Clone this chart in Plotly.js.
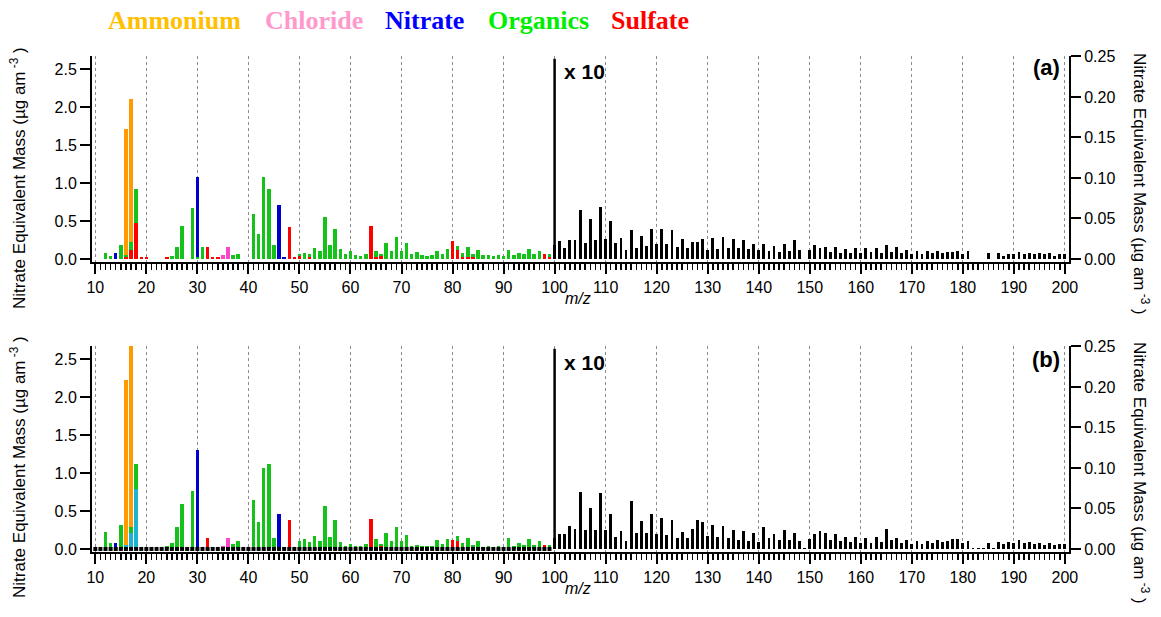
<!DOCTYPE html>
<html><head><meta charset="utf-8">
<script src="https://cdn.plot.ly/plotly-3.0.1.min.js"></script>
<style>html,body{margin:0;padding:0;background:#fff}#chart{width:1161px;height:617px}</style>
</head><body><div id="chart"></div>
<script>
// ---------------- Panel (a) : species stick spectra (segment heights, µg/m3) ----------------
const sulfA_mz = [16,17,18,19,20,24,32,33,34,48,49,50,52,64,65,66,80,81,82,83,84,98,99];
const sulfA    = [0.03,0.12,0.47,0.02,0.02,0.03,0.16,0.02,0.03,0.42,0.03,0.04,0.02,0.43,0.03,0.04,0.24,0.12,0.03,0.02,0.02,0.07,0.03];
const orgA_mz  = [12,13,15,16,17,18,25,26,27,29,30,31,37,38,41,42,43,44,45,50,51,52,53,54,55,56,57,58,59,60,61,62,63,65,66,67,68,69,70,71,72,73,74,75,76,77,78,79,81,82,83,84,85,86,87,88,89,90,91,92,93,94,95,96,97,99];
const orgA     = [0.075,0.04,0.19,0.02,0.10,0.455,0.04,0.16,0.43,0.67,0.03,0.16,0.05,0.07,0.59,0.33,1.075,0.925,0.18,0.02,0.08,0.05,0.14,0.11,0.55,0.18,0.39,0.13,0.06,0.10,0.05,0.04,0.06,0.07,0.02,0.21,0.10,0.285,0.11,0.21,0.06,0.09,0.05,0.04,0.05,0.10,0.06,0.13,0.05,0.05,0.135,0.05,0.12,0.05,0.05,0.04,0.05,0.04,0.12,0.05,0.08,0.06,0.13,0.06,0.11,0.04];
const nitA_mz  = [14,30,46,47];
const nitA     = [0.08,1.05,0.71,0.02];
const chlA_mz  = [35,36];
const chlA     = [0.05,0.16];
const ammA_mz  = [16,17];
const ammA     = [1.66,1.89];
// high-m/z total (right axis, true scale; drawn x10 relative to left)
const hiA_mz = [100,101,102,103,104,105,106,107,108,109,110,111,112,113,114,115,116,117,118,119,120,121,122,123,124,125,126,127,128,129,130,131,132,133,134,135,136,137,138,139,140,141,142,143,144,145,146,147,148,150,151,152,153,154,155,156,157,158,159,160,161,162,163,164,165,166,167,168,169,170,171,172,173,174,175,176,177,178,179,180,181,185,187,188,189,190,191,192,193,194,195,196,197,198,199,200];
const hiA    = [0.017,0.022,0.013,0.024,0.024,0.061,0.020,0.049,0.023,0.064,0.025,0.047,0.020,0.026,0.011,0.036,0.014,0.029,0.016,0.037,0.018,0.037,0.018,0.036,0.015,0.025,0.013,0.021,0.021,0.025,0.011,0.026,0.012,0.027,0.014,0.025,0.014,0.023,0.012,0.019,0.011,0.019,0.010,0.016,0.009,0.019,0.010,0.024,0.011,0.011,0.017,0.014,0.015,0.009,0.015,0.007,0.012,0.007,0.014,0.007,0.014,0.009,0.014,0.007,0.017,0.009,0.015,0.007,0.011,0.006,0.010,0.006,0.010,0.007,0.010,0.007,0.009,0.009,0.010,0.006,0.010,0.007,0.007,0.004,0.006,0.006,0.009,0.006,0.008,0.006,0.007,0.006,0.007,0.004,0.006,0.006];

// ---------------- Panel (b) ----------------
const watB_mz  = [16,17,18];
const watB     = [0.05,0.21,0.79];
const sulfB_mz = [32,48,50,64,66,80,81,98];
const sulfB    = [0.15,0.38,0.03,0.395,0.035,0.12,0.10,0.057];
const orgB_mz  = [12,13,15,17,18,24,25,26,27,29,37,38,41,42,43,44,45,49,50,51,52,53,54,55,56,57,58,59,60,61,62,63,65,66,67,68,69,70,71,72,73,74,75,76,77,78,79,81,82,83,84,85,86,87,88,89,90,91,92,93,94,95,96,97,99];
const orgB     = [0.22,0.083,0.32,0.08,0.33,0.035,0.08,0.29,0.59,0.76,0.07,0.11,0.645,0.355,1.06,1.12,0.15,0.03,0.075,0.13,0.09,0.175,0.11,0.57,0.16,0.38,0.09,0.04,0.06,0.035,0.035,0.06,0.135,0.025,0.21,0.10,0.29,0.10,0.19,0.035,0.057,0.044,0.035,0.04,0.12,0.07,0.135,0.07,0.08,0.15,0.057,0.11,0.03,0.04,0.026,0.04,0.026,0.145,0.044,0.083,0.048,0.135,0.053,0.105,0.048];
const nitB_mz  = [14,30,46];
const nitB     = [0.083,1.30,0.46];
const chlB_mz  = [35,36];
const chlB     = [0.04,0.145];
const ammB_mz  = [16,17];
const ammB     = [2.17,2.40];
const hiB_mz = [100,101,102,103,104,105,106,107,108,109,110,111,112,113,114,115,116,117,118,119,120,121,122,123,124,125,126,127,128,129,130,131,132,133,134,135,136,137,138,139,140,141,142,143,144,145,146,147,148,149,150,151,152,153,154,155,156,157,158,159,160,161,162,163,164,165,166,167,168,169,170,171,172,173,174,175,176,177,178,179,180,181,182,183,184,185,186,187,188,189,190,191,192,193,194,195,196,197,198,199,200];
const hiB    = [0.0135,0.019,0.019,0.029,0.025,0.0705,0.023,0.050,0.023,0.069,0.023,0.043,0.015,0.0225,0.010,0.059,0.020,0.035,0.020,0.043,0.019,0.038,0.017,0.036,0.0135,0.021,0.014,0.025,0.036,0.033,0.0155,0.030,0.015,0.029,0.014,0.024,0.0115,0.022,0.010,0.020,0.0086,0.027,0.014,0.019,0.0115,0.023,0.011,0.020,0.010,0.0016,0.012,0.018,0.022,0.020,0.011,0.018,0.010,0.015,0.009,0.015,0.008,0.014,0.008,0.015,0.0086,0.025,0.011,0.014,0.008,0.011,0.0066,0.010,0.0057,0.010,0.007,0.011,0.009,0.010,0.0127,0.0127,0.008,0.010,0.0012,0.0012,0.0012,0.008,0.0012,0.0086,0.0057,0.0086,0.0074,0.011,0.0074,0.0086,0.0057,0.0074,0.0053,0.0074,0.0053,0.006,0.006];
// baseline markers in (b)
const baseB_mz = [10,11,12,13,14,15,16,17,18,19,20,21,22,23,24,25,26,27,28,29,30,31,32,33,34,35,36,37,38,39,40,41,42,43,44,45,46,47,48,49,50,51,52,53,54,55,56,57,58,59,60,61,62,63,64,65,66,67,68,69,70,71,72,73,74,75,76,77,78,79,80,81,82,83,84,85,86,87,88,89,90,91,92,93,94,95,96,97,98,99];
const baseB    = baseB_mz.map(() => 0);

const legendNames  = ['Ammonium','Chloride','Nitrate','Organics','Sulfate'];
const legendColors = ['#FFC000','#FF99CC','#0000FF','#00EE00','#FF0000'];
const scaleBreak = 100;
const scaleLabel = 'x 10';
const yTitle = 'Nitrate Equivalent Mass (µg am<sup> -3</sup> )';

// ---------------- styling ----------------
const C = {amm:'#FF9A00', chl:'#FF44CC', nit:'#0000CC', org:'#14C21A', sulf:'#FF0000', wat:'#1CB3D0', blk:'#000000'};
const BW = 0.68;
const FONT = 'Liberation Sans, Arial, sans-serif';

function bar(x, y, color, xa, ya, w) {
  return {type:'bar', x:x, y:y, xaxis:xa, yaxis:ya, width:w||BW,
          marker:{color:color, line:{width:0}}, showlegend:false, hoverinfo:'x+y'};
}
const traces = [
  bar(sulfA_mz, sulfA, C.sulf, 'x', 'y'),
  bar(orgA_mz, orgA, C.org, 'x', 'y'),
  bar(nitA_mz, nitA, C.nit, 'x', 'y'),
  bar(chlA_mz, chlA, C.chl, 'x', 'y'),
  bar(ammA_mz, ammA, C.amm, 'x', 'y'),
  bar(hiA_mz, hiA, C.blk, 'x', 'y2', 0.56),
  bar(watB_mz, watB, C.wat, 'x2', 'y3'),
  bar(sulfB_mz, sulfB, C.sulf, 'x2', 'y3'),
  bar(orgB_mz, orgB, C.org, 'x2', 'y3'),
  bar(nitB_mz, nitB, C.nit, 'x2', 'y3'),
  bar(chlB_mz, chlB, C.chl, 'x2', 'y3'),
  bar(ammB_mz, ammB, C.amm, 'x2', 'y3'),
  bar(hiB_mz, hiB, C.blk, 'x2', 'y4', 0.56),
  {type:'scatter', mode:'markers', x:baseB_mz, y:baseB, xaxis:'x2', yaxis:'y3',
   marker:{symbol:'square', size:4, color:'#000', line:{width:0}}, showlegend:false, hoverinfo:'skip', cliponaxis:false}
];

// pixel frame
const W = 1161, H = 617, L = 92, R = 1069, T = 56, B = 552;
const px = x => (x - L) / (R - L);
const py = y => (B - y) / (B - T);
const panelH = 206;
const domA = [1 - panelH/(B-T), 1];
const domB = [0, panelH/(B-T)];

const xax = (anchor) => ({
  anchor: anchor, domain:[0,1], range:[9.35, 200.8], dtick:10, tick0:0,
  ticks:'outside', ticklen:10, tickwidth:2, tickcolor:'#000',
  showline:true, linewidth:2, linecolor:'#000', zeroline:false,
  showgrid:true, gridcolor:'#8c8c8c', griddash:'dot', gridwidth:1,
  tickfont:{size:16, color:'#000'},
  minor:{dtick:1, ticks:'outside', ticklen:6, tickwidth:1.5, tickcolor:'#000', showgrid:false}
});
const yl = (anchor, dom) => ({
  anchor: anchor, domain: dom, range:[-0.04, 2.671], dtick:0.5, tickformat:'.1f',
  ticks:'outside', ticklen:10, tickwidth:2, tickcolor:'#000',
  showline:true, linewidth:2, linecolor:'#000', zeroline:false, showgrid:false,
  tickfont:{size:16, color:'#000'}
});
const yr = (anchor, over) => ({
  anchor: anchor, overlaying: over, side:'right', range:[-0.0037, 0.2505], dtick:0.05, tickformat:'.2f',
  ticks:'outside', ticklen:10, tickwidth:2, tickcolor:'#000',
  showline:true, linewidth:2, linecolor:'#000', zeroline:false, showgrid:false,
  tickfont:{size:16, color:'#000'}
});

const ann = [];
// legend (text-only, coloured)
const legX = [174, 314, 424, 538, 650];
legendNames.forEach((n,i) => ann.push({xref:'paper', yref:'paper', x:px(legX[i]), y:py(20), text:'<b>'+n+'</b>',
  showarrow:false, xanchor:'center', yanchor:'middle',
  font:{family:'Liberation Serif, Times New Roman, serif', size:26, color:legendColors[i]}}));
// axis titles
const titleFont = {family:FONT, size:17, color:'#000'};
ann.push({xref:'paper', yref:'paper', x:px(18), y:py(178), text:yTitle, textangle:-90, showarrow:false,
  xanchor:'center', yanchor:'middle', font:titleFont});
ann.push({xref:'paper', yref:'paper', x:px(18), y:py(467), text:yTitle, textangle:-90, showarrow:false,
  xanchor:'center', yanchor:'middle', font:titleFont});
ann.push({xref:'paper', yref:'paper', x:px(1141), y:py(184), text:yTitle, textangle:90, showarrow:false,
  xanchor:'center', yanchor:'middle', font:titleFont});
ann.push({xref:'paper', yref:'paper', x:px(1141), y:py(473), text:yTitle, textangle:90, showarrow:false,
  xanchor:'center', yanchor:'middle', font:titleFont});
// m/z titles
ann.push({xref:'paper', yref:'paper', x:px(578), y:py(298), text:'<i>m/z</i>', showarrow:false,
  xanchor:'center', yanchor:'middle', font:{family:FONT, size:16, color:'#000'}});
ann.push({xref:'paper', yref:'paper', x:px(578), y:py(588), text:'<i>m/z</i>', showarrow:false,
  xanchor:'center', yanchor:'middle', font:{family:FONT, size:16, color:'#000'}});
// x10 labels and panel tags
ann.push({xref:'paper', yref:'paper', x:px(562), y:py(72), text:'<b>'+scaleLabel+'</b>', showarrow:false,
  xanchor:'left', yanchor:'middle', font:{family:FONT, size:21, color:'#000'}});
ann.push({xref:'paper', yref:'paper', x:px(562), y:py(362), text:'<b>'+scaleLabel+'</b>', showarrow:false,
  xanchor:'left', yanchor:'middle', font:{family:FONT, size:21, color:'#000'}});
ann.push({xref:'paper', yref:'paper', x:px(1062), y:py(68), text:'<b>(a)</b>', showarrow:false,
  xanchor:'right', yanchor:'middle', font:{family:FONT, size:22, color:'#000'}});
ann.push({xref:'paper', yref:'paper', x:px(1062), y:py(359), text:'<b>(b)</b>', showarrow:false,
  xanchor:'right', yanchor:'middle', font:{family:FONT, size:22, color:'#000'}});

const shapes = [
  {type:'line', xref:'x', yref:'y2', x0:scaleBreak, x1:scaleBreak, y0:0, y1:0.247, line:{color:'#000', width:2.5}},
  {type:'line', xref:'x2', yref:'y4', x0:scaleBreak, x1:scaleBreak, y0:0, y1:0.247, line:{color:'#000', width:2.5}}
];

const layout = {
  width:W, height:H, margin:{l:L, r:W-R, t:T, b:H-B, pad:0},
  paper_bgcolor:'#fff', plot_bgcolor:'rgba(0,0,0,0)', barmode:'stack', bargap:0,
  font:{family:FONT, size:16, color:'#000'}, showlegend:false,
  xaxis: xax('y'), yaxis: yl('x', domA), yaxis2: yr('x','y'),
  xaxis2: xax('y3'), yaxis3: yl('x2', domB), yaxis4: yr('x2','y3'),
  annotations: ann, shapes: shapes
};
Plotly.newPlot('chart', traces, layout, {displayModeBar:false, staticPlot:true});
</script></body></html>
